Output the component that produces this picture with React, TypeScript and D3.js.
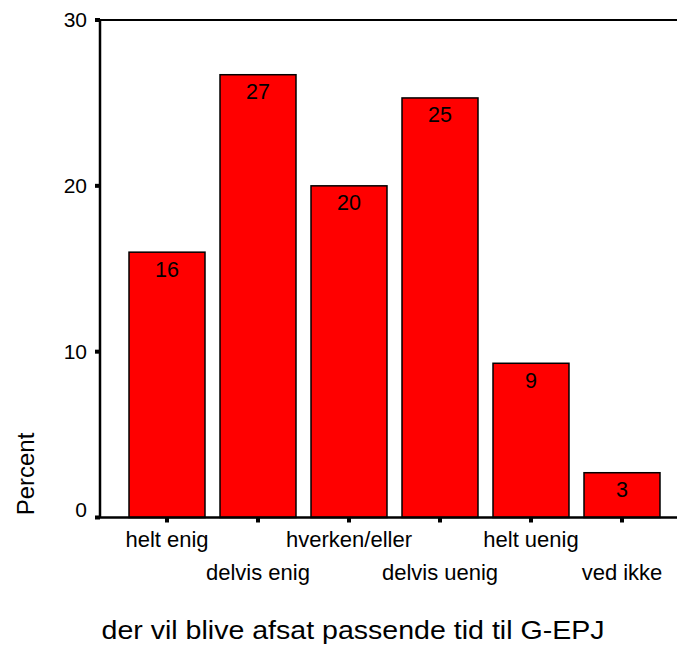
import { useEffect, useRef } from 'react'
import * as d3 from 'd3'

const categories = ['helt enig', 'delvis enig', 'hverken/eller', 'delvis uenig', 'helt uenig', 'ved ikke']
const percents = [16.0, 26.7, 20.0, 25.3, 9.3, 2.7]
const yTicks = [0, 10, 20, 30]
const xTitle = 'der vil blive afsat passende tid til G-EPJ'
const yTitle = 'Percent'

const FONT = 'Arial, "Liberation Sans", sans-serif'

export default function App() {
  const svgRef = useRef<SVGSVGElement>(null)

  useEffect(() => {
    if (!svgRef.current) return
    const svg = d3.select(svgRef.current)
    svg.selectAll('*').remove()

    const left = 100
    const right = 677
    const top = 20
    const bottom = 517.5

    const x = d3.scaleBand<string>()
      .domain(categories)
      .range([121.5, 667.5])
      .paddingInner(0.165)
      .paddingOuter(0.0825)

    const y = d3.scaleLinear().domain([0, 30]).range([bottom, top])

    // bars
    svg.append('g')
      .selectAll('rect')
      .data(percents)
      .join('rect')
      .attr('x', (_, i) => x(categories[i])!)
      .attr('y', d => y(d))
      .attr('width', x.bandwidth())
      .attr('height', d => bottom - y(d))
      .attr('fill', '#ff0000')
      .attr('stroke', '#000')
      .attr('stroke-width', 1.5)

    // value labels
    svg.append('g')
      .selectAll('text')
      .data(percents)
      .join('text')
      .attr('x', (_, i) => x(categories[i])! + x.bandwidth() / 2)
      .attr('y', d => y(d) + 17)
      .attr('dy', '0.35em')
      .attr('text-anchor', 'middle')
      .attr('font-family', FONT)
      .attr('font-size', 21.5)
      .attr('fill', '#000')
      .text(d => Math.round(d))

    // frame lines
    svg.append('line')
      .attr('x1', left).attr('x2', right).attr('y1', top).attr('y2', top)
      .attr('stroke', '#000').attr('stroke-width', 2)
    svg.append('line')
      .attr('x1', left).attr('x2', left).attr('y1', top).attr('y2', bottom)
      .attr('stroke', '#000').attr('stroke-width', 2.5)
    svg.append('line')
      .attr('x1', left - 4).attr('x2', right).attr('y1', bottom).attr('y2', bottom)
      .attr('stroke', '#000').attr('stroke-width', 2.5)

    // y ticks
    const yt = svg.append('g')
    yTicks.forEach(t => {
      yt.append('rect')
        .attr('x', left - 5).attr('y', y(t) - 2).attr('width', 5).attr('height', 4)
        .attr('fill', '#000')
      yt.append('text')
        .attr('x', left - 13)
        .attr('y', t === 0 ? y(t) - 8 : y(t))
        .attr('dy', '0.35em')
        .attr('text-anchor', 'end')
        .attr('font-family', FONT)
        .attr('font-size', 21)
        .text(t)
    })

    // x ticks + labels (staggered)
    const xt = svg.append('g')
    categories.forEach((c, i) => {
      const cx = x(c)! + x.bandwidth() / 2
      xt.append('rect')
        .attr('x', cx - 2).attr('y', bottom).attr('width', 4).attr('height', 5)
        .attr('fill', '#000')
      xt.append('text')
        .attr('x', cx)
        .attr('y', i % 2 === 0 ? 539 : 572)
        .attr('dy', '0.35em')
        .attr('text-anchor', 'middle')
        .attr('font-family', FONT)
        .attr('font-size', 22)
        .text(c)
    })

    // axis titles
    svg.append('text')
      .attr('transform', `translate(26, 474) rotate(-90)`)
      .attr('dy', '0.35em')
      .attr('text-anchor', 'middle')
      .attr('font-family', FONT)
      .attr('font-size', 24)
      .text(yTitle)

    svg.append('text')
      .attr('x', 353)
      .attr('y', 639)
      .attr('text-anchor', 'middle')
      .attr('font-family', FONT)
      .attr('font-size', 25)
      .attr('textLength', 503)
      .attr('lengthAdjust', 'spacingAndGlyphs')
      .text(xTitle)
  }, [])

  return (
    <svg
      ref={svgRef}
      width={678}
      height={645}
      style={{ position: 'absolute', left: 0, top: 0, background: '#fff' }}
    />
  )
}
